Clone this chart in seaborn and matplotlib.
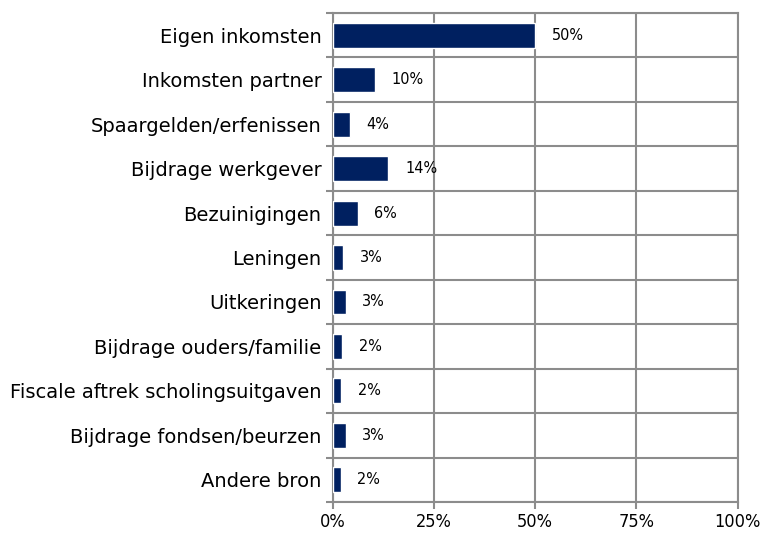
import matplotlib
matplotlib.use("Agg")
import matplotlib.pyplot as plt
import seaborn as sns
import pandas as pd
from matplotlib.ticker import FixedLocator, PercentFormatter

# Data
categories = [
    "Eigen inkomsten",
    "Inkomsten partner",
    "Spaargelden/erfenissen",
    "Bijdrage werkgever",
    "Bezuinigingen",
    "Leningen",
    "Uitkeringen",
    "Bijdrage ouders/familie",
    "Fiscale aftrek scholingsuitgaven",
    "Bijdrage fondsen/beurzen",
    "Andere bron",
]
values = [50.0, 10.5, 4.3, 13.8, 6.2, 2.7, 3.2, 2.3, 2.2, 3.2, 2.0]
value_labels = ["50%", "10%", "4%", "14%", "6%", "3%", "3%", "2%", "2%", "3%", "2%"]
x_ticks = [0, 25, 50, 75, 100]

df = pd.DataFrame({"bron": categories, "aandeel": values})

sns.set_style("white")
plt.rcParams["font.family"] = ["DejaVu Sans"]
plt.rcParams["text.color"] = "black"
plt.rcParams["xtick.color"] = "black"
plt.rcParams["ytick.color"] = "black"

GRID = "#8c8c8c"
NAVY = "#002060"

fig = plt.figure(figsize=(7.61, 5.36), dpi=100)
ax = fig.add_axes([0.437, 0.0634, 0.5324, 0.9123])

sns.barplot(data=df, y="bron", x="aandeel", orient="h", color=NAVY,
            width=0.56, saturation=1, ax=ax, zorder=3)

ax.set_xlim(0, 100)
ax.set_ylim(len(categories) - 0.5, -0.5)
ax.set_xlabel("")
ax.set_ylabel("")

ax.xaxis.set_major_locator(FixedLocator(x_ticks))
ax.xaxis.set_major_formatter(PercentFormatter(decimals=0))
ax.yaxis.set_minor_locator(FixedLocator([i - 0.5 for i in range(len(categories) + 1)]))

ax.grid(axis="x", which="major", color=GRID, linewidth=1.5, zorder=0)
ax.grid(axis="y", which="minor", color=GRID, linewidth=1.5, zorder=0)
ax.set_axisbelow(True)

for s in ax.spines.values():
    s.set_color(GRID)
    s.set_linewidth(1.5)

ax.tick_params(axis="x", which="major", length=5, width=1.5, color=GRID,
               labelcolor="black", pad=3, bottom=True)
ax.tick_params(axis="y", which="major", length=0, labelsize=14,
               labelcolor="black", pad=8)
ax.tick_params(axis="y", which="minor", length=5, width=1.5, color=GRID, left=True)
for t in ax.get_xticklabels():
    t.set_fontstretch("condensed")
    t.set_fontsize(13)

for c in ax.containers:
    texts = ax.bar_label(c, labels=value_labels, padding=12, fontsize=11.6,
                         color="black")
    for t in texts:
        t.set_fontstretch("condensed")

fig.savefig("out.png", dpi=100)
